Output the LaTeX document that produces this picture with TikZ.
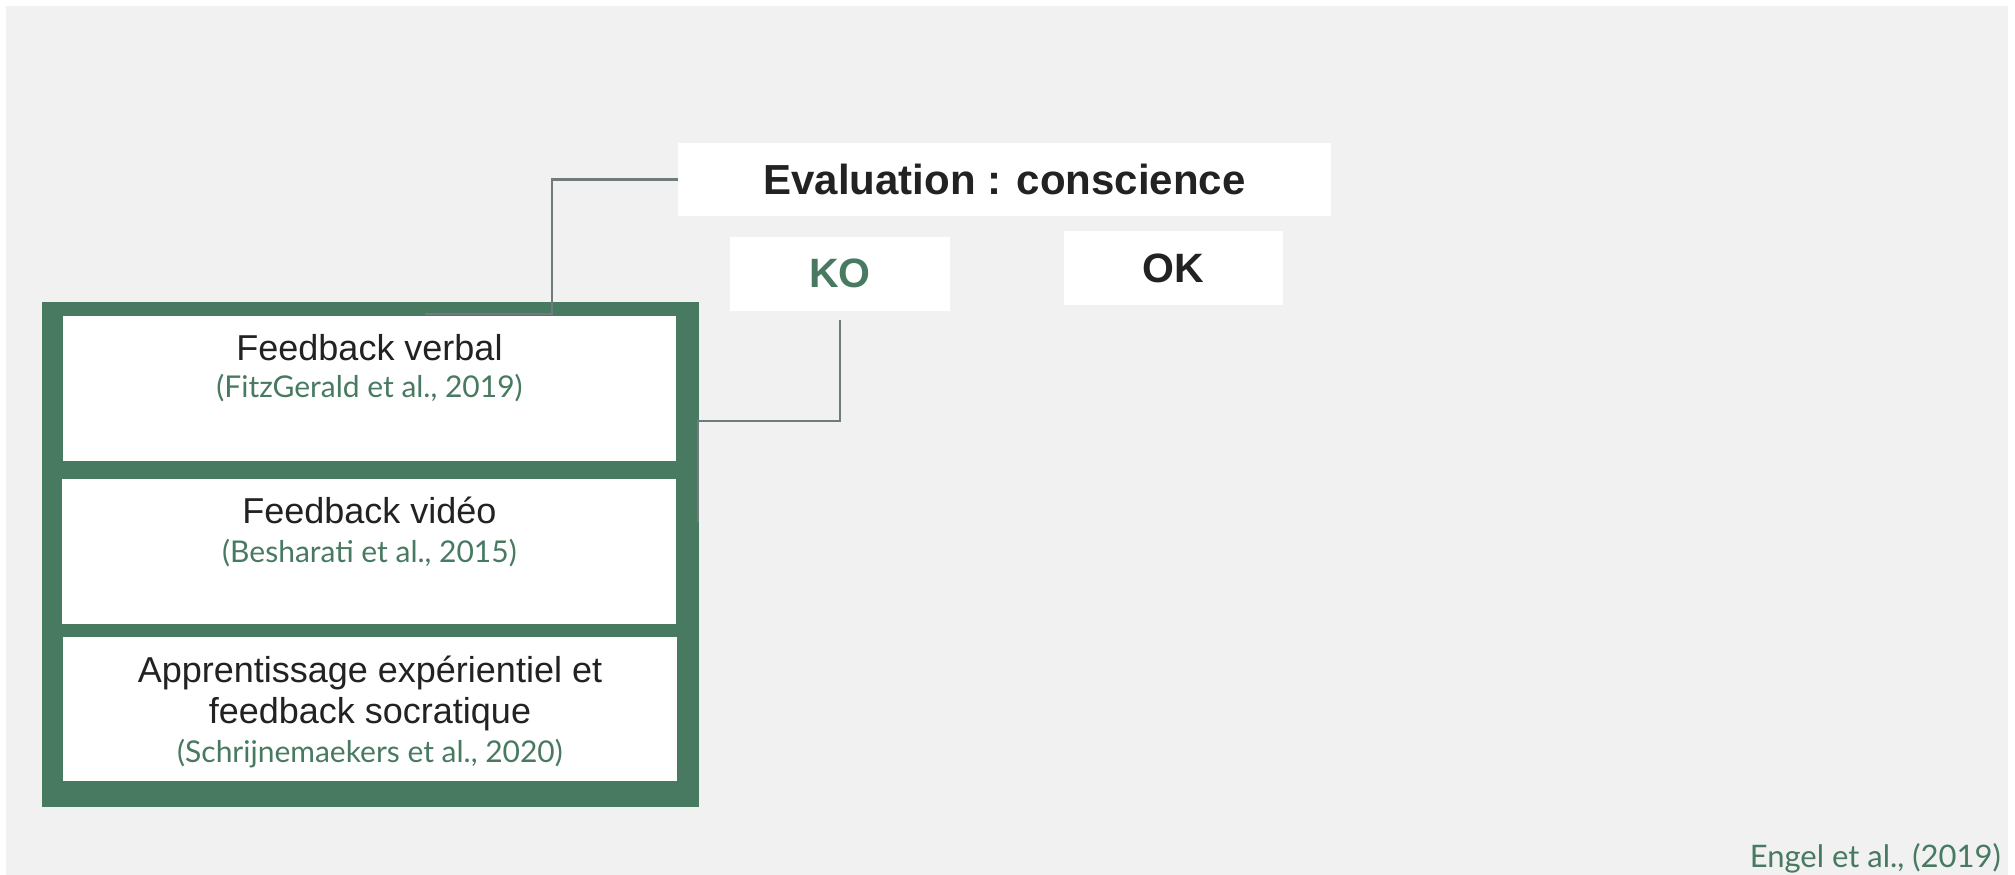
\documentclass[tikz,border=0pt]{standalone}
\usepackage{fontspec}
\setmainfont{Liberation Sans}
\newfontfamily\headf{Liberation Sans}
\newfontfamily\citef{Lato}
\definecolor{bggray}{HTML}{F1F1F1}
\definecolor{grn}{HTML}{477A61}
\definecolor{ink}{HTML}{222222}
\definecolor{wire}{HTML}{707B7B}
\tikzset{
  card/.style={fill=white, draw=none, inner sep=0pt, outer sep=0pt, rectangle},
  head/.style={font=\headf\bfseries\fontsize{42}{50}\selectfont, text=ink, inner sep=0pt},
  verdict/.style={font=\headf\bfseries\fontsize{41}{49}\selectfont, inner sep=0pt},
  title/.style={font=\headf\fontsize{36}{41}\selectfont, text=ink, inner sep=0pt, anchor=base, align=center},
  cite/.style={font=\citef\fontsize{30}{35}\selectfont, text=grn, inner sep=0pt, anchor=base},
  wirestyle/.style={draw=wire, line width=2.5pt}
}
\begin{document}
\begin{tikzpicture}[x=1pt, y=-1pt]
  % canvas
  \fill[white] (0,0) rectangle (2015,875);
  \fill[bggray] (6,6) rectangle (2008,875);
  \useasboundingbox (0,0) rectangle (2015,875);

  % evaluation header and its two outcomes
  \node[card, minimum width=653pt, minimum height=73pt] (eval) at (1004.5,179.5) {};
  \node[head] (evaltxt) at (eval.center) {Evaluation : conscience};
  \node[card, minimum width=220pt, minimum height=74pt] (ko) at (840,273.5) {};
  \node[verdict, text=grn] (kotxt) at (ko.center) {KO};
  \node[card, minimum width=219pt, minimum height=74pt] (ok) at (1173.5,268) {};
  \node[verdict, text=ink] (oktxt) at (ok.center) {OK};

  % green group of remediation strategies
  \node[fill=grn, inner sep=0pt, outer sep=0pt, minimum width=657pt, minimum height=505pt] (group) at (370.5,554.5) {};
  \node[card, minimum width=613pt, minimum height=145pt] (b1) at (369.5,388.5) {};
  \node[card, minimum width=614pt, minimum height=145pt] (b2) at (369,551.5) {};
  \node[card, minimum width=614pt, minimum height=144pt] (b3) at (370,709) {};

  % texts in the group
  \node[title] (t1) at (369.5,360) {Feedback verbal};
  \node[cite] (c1) at (369.5,397) {(FitzGerald et al., 2019)};
  \node[title] (t2) at (369.5,523) {Feedback vidéo};
  \node[cite] (c2) at (369.5,562) {(Besharati et al., 2015)};
  \node[title] (t3a) at (370,682) {Apprentissage expérientiel et};
  \node[title] (t3b) at (370,723) {feedback socratique};
  \node[cite] (c3) at (370,762) {(Schrijnemaekers et al., 2020)};

  % connectors
  \coordinate (e1) at (425,314);
  \coordinate (e2) at (698,522);
  \draw[wirestyle] (eval.west) -- (552,179.5) -- (552,314) -- (e1);
  \draw[wirestyle] ([yshift=-9pt]ko.south) -- (840,421) -- (698,421) -- (e2);

  % source
  \node[cite, anchor=base east, font=\citef\fontsize{31}{37}\selectfont] (src) at (2001,867) {Engel et al., (2019)};
\end{tikzpicture}
\end{document}
